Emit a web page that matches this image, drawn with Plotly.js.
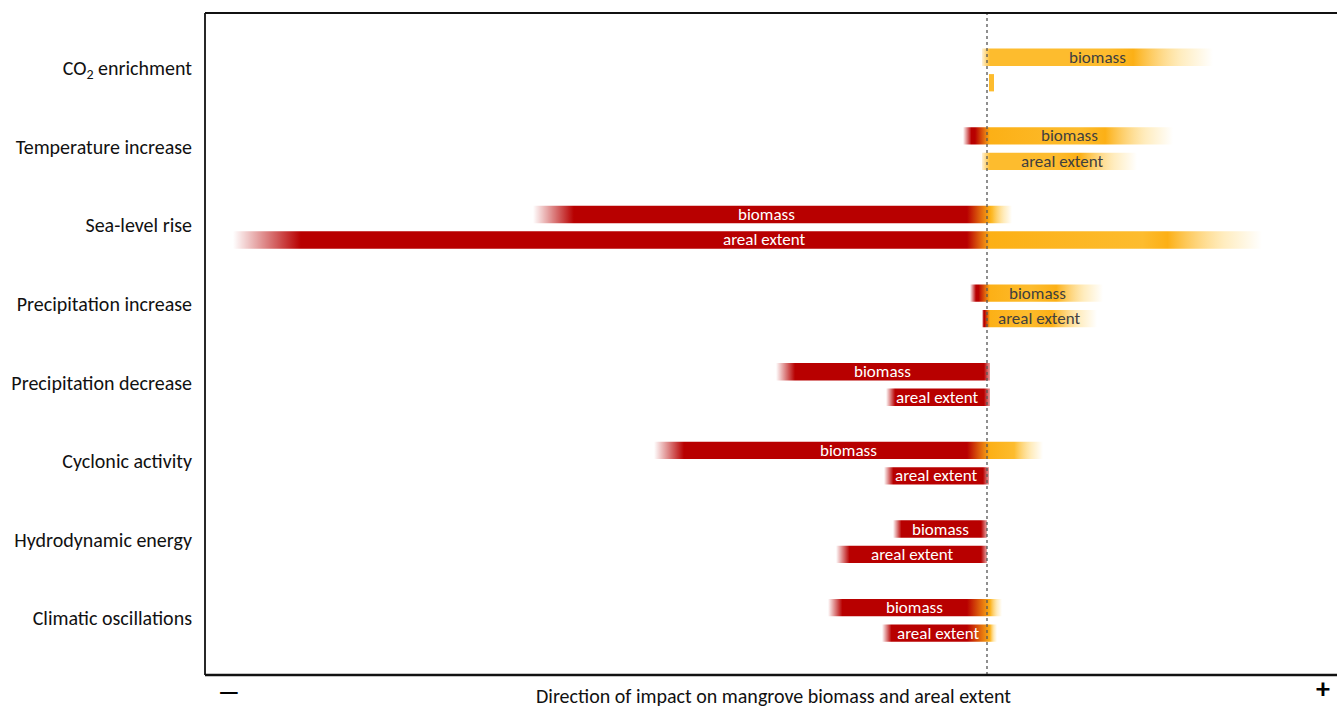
<!DOCTYPE html>
<html>
<head>
<meta charset="utf-8">
<script src="https://cdn.plot.ly/plotly-3.0.1.min.js"></script>
<style>
html,body{margin:0;padding:0;background:#fff;}
#chart{width:1337px;height:708px;}
</style>
</head>
<body>
<div id="chart"></div>
<script>
// ---- data (x in relative impact units; 0 = no change) ----
const categories = ['CO<sub>2</sub> enrichment', 'Temperature increase', 'Sea-level rise',
  'Precipitation increase', 'Precipitation decrease', 'Cyclonic activity',
  'Hydrodynamic energy', 'Climatic oscillations'];
const seriesNames = ['biomass', 'areal extent'];
const biomassNeg = [0, 0.24, 4.54, 0.17, 2.11, 3.33, 0.94, 1.59];
const biomassPos = [2.26, 1.86, 0.25, 1.16, 0.03, 0.56, 0, 0.15];
const arealNeg   = [0, 0, 7.54, 0.05, 1.01, 1.03, 1.51, 1.05];
const arealPos   = [0.07, 1.50, 2.75, 1.10, 0.03, 0.02, 0, 0.10];
const biomassLabelX = [1.10, 0.82, -2.21, 0.50, -1.05, -1.39, -0.47, -0.73];
const arealLabelX   = [null, 0.75, -2.23, 0.52, -0.50, -0.51, -0.75, -0.49];
const xAxisTitle = 'Direction of impact on mangrove biomass and areal extent';

// ---- styling ----
const FONT = 'Carlito, Lato, "Open Sans", sans-serif';
const RED = '184,0,0', ORG = '253,188,46', ORG2 = '252,176,22', ORG3 = '255,222,140';
const rgba = (c, a) => 'rgba(' + c + ',' + a + ')';
const GROUP_OFFSET = 0.725, PAIR_OFF = 0.162, HALF_H = 0.11, LABEL_SHIFT = -0.025;

function orangeTail(s, pos) {
  const fr = Math.min(0.3 * pos + 0.12, pos - 0.03);
  const mid = pos - fr;
  if (pos > 0.8) {
    s.push([mid - 0.25, rgba(ORG, 1)]);
    s.push([mid, rgba(ORG2, 1)]);
  } else {
    s.push([mid, rgba(ORG, 1)]);
  }
  s.push([mid + fr * 0.6, rgba(ORG3, 0.55)]);
  s.push([pos, rgba(ORG3, 0)]);
}

function gradientStops(neg, pos) {
  let s = [];
  if (neg > 0) {
    const L = -neg;
    const fl = neg < 0.3 ? 0.35 * neg : Math.max(0.07, 0.09 * neg);
    s.push([L, rgba(RED, 0)]);
    s.push([L + fl, rgba(RED, 1)]);
    if (pos >= 0.06) {
      const t = Math.min(0.2, 0.5 * neg);
      s.push([-t, rgba(RED, 1)]);
      s.push([0.03, rgba(ORG2, 1)]);
      orangeTail(s, pos);
    } else {
      s.push([pos - 0.06, rgba(RED, 1)]);
      s.push([pos, rgba(RED, 0.35)]);
    }
  } else {
    if (pos < 0.15) {
      s.push([0.02, rgba(ORG, 1)]);
      s.push([pos, rgba(ORG, 1)]);
    } else {
      s.push([-0.05, rgba(ORG, 0.2)]);
      s.push([0.03, rgba(ORG, 1)]);
      orangeTail(s, pos);
    }
  }
  const out = [s[0]];
  for (let i = 1; i < s.length; i++) {
    if (s[i][0] > out[out.length - 1][0]) out.push(s[i]);
  }
  return out;
}

function barTrace(neg, pos, yc, name) {
  const st = gradientStops(neg, pos);
  const L = st[0][0], R = st[st.length - 1][0];
  const cs = st.map(p => [(p[0] - L) / (R - L), p[1]]);
  cs[0][0] = 0; cs[cs.length - 1][0] = 1;
  return {
    type: 'scatter', mode: 'none', name: name, showlegend: false, hoverinfo: 'skip',
    x: [L, R, R, L, L],
    y: [yc - HALF_H, yc - HALF_H, yc + HALF_H, yc + HALF_H, yc - HALF_H],
    fill: 'toself',
    fillcolor: rgba(ORG, 1),
    fillgradient: {type: 'horizontal', colorscale: cs, start: L, stop: R}
  };
}

const traces = [];
const annotations = [];
const centers = categories.map((c, i) => i + GROUP_OFFSET);
categories.forEach((cat, i) => {
  const yb = centers[i] - PAIR_OFF, ya = centers[i] + PAIR_OFF;
  traces.push(barTrace(biomassNeg[i], biomassPos[i], yb, cat + ' ' + seriesNames[0]));
  traces.push(barTrace(arealNeg[i], arealPos[i], ya, cat + ' ' + seriesNames[1]));
  [[biomassLabelX[i], yb, seriesNames[0]], [arealLabelX[i], ya, seriesNames[1]]].forEach(([lx, y, txt]) => {
    if (lx === null) return;
    annotations.push({
      x: lx, y: y, xref: 'x', yref: 'y', text: txt, showarrow: false,
      font: {family: FONT, size: 17, color: lx < 0 ? '#ffffff' : '#3f3f3f'},
      xanchor: 'center', yanchor: 'middle'
    });
  });
});

annotations.push({
  xref: 'paper', yref: 'paper', x: 0.5018, y: -0.031, text: xAxisTitle, showarrow: false,
  font: {family: FONT, size: 20, color: '#111'}, xanchor: 'center', yanchor: 'middle'
});
annotations.push({
  xref: 'paper', yref: 'paper', x: 0.0212, y: -0.0495, text: '<b>—</b>', showarrow: false,
  font: {family: FONT, size: 24, color: '#000'}, xanchor: 'center', yanchor: 'bottom'
});
annotations.push({
  xref: 'paper', yref: 'paper', x: 0.9876, y: -0.0495, text: '<b>+</b>', showarrow: false,
  font: {family: FONT, size: 28, color: '#000'}, xanchor: 'center', yanchor: 'bottom'
});

const layout = {
  width: 1337, height: 708,
  margin: {l: 205, r: 0, t: 13, b: 33},
  paper_bgcolor: '#fff', plot_bgcolor: '#fff',
  showlegend: false,
  xaxis: {range: [-7.82, 3.50], showgrid: false, zeroline: false, showticklabels: false,
          ticks: '', showline: false, fixedrange: true},
  yaxis: {range: [8.42, 0], showgrid: false, zeroline: false, ticks: '', showline: false,
          tickvals: centers.map(c => c + LABEL_SHIFT), ticktext: categories, ticklabelstandoff: 12,
          tickfont: {family: FONT, size: 20, color: '#111'}, fixedrange: true},
  shapes: [
    {type: 'line', xref: 'x', yref: 'paper', x0: 0, x1: 0, y0: 0, y1: 1,
     line: {color: '#555', width: 1.3, dash: 'dot'}},
    {type: 'line', xref: 'paper', yref: 'paper', x0: 0, x1: 0, y0: 0, y1: 1,
     line: {color: '#111', width: 1.8}},
    {type: 'line', xref: 'paper', yref: 'paper', x0: 0, x1: 1.01, y0: 1, y1: 1,
     line: {color: '#111', width: 1.8}},
    {type: 'line', xref: 'paper', yref: 'paper', x0: 0, x1: 1.01, y0: 0, y1: 0,
     line: {color: '#111', width: 2.6}}
  ],
  annotations: annotations
};

Plotly.newPlot('chart', traces, layout, {displayModeBar: false, staticPlot: true});
</script>
</body>
</html>
